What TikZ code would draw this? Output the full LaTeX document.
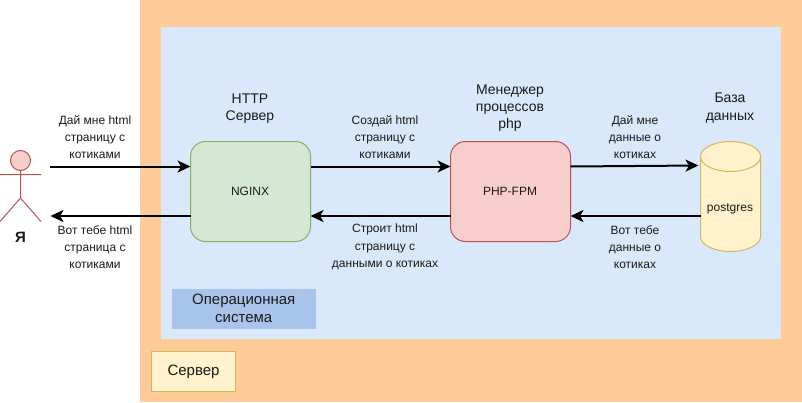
\documentclass[tikz,border=0pt]{standalone}
\usepackage{fontspec}
\setmainfont{Liberation Sans}
\usetikzlibrary{arrows.meta,shapes.geometric,calc}
\definecolor{srvfill}{HTML}{FFCC99}
\definecolor{osfill}{HTML}{DAE8FC}
\definecolor{oslabel}{HTML}{A9C4EB}
\definecolor{greenfill}{HTML}{D5E8D4}
\definecolor{greenline}{HTML}{82B366}
\definecolor{redfill}{HTML}{F8CECC}
\definecolor{redline}{HTML}{B85450}
\definecolor{yelfill}{HTML}{FFF2CC}
\definecolor{yelline}{HTML}{D6B656}
\definecolor{txt}{HTML}{1A1A1A}
\tikzset{
  plainbox/.style={anchor=north west,inner sep=0pt,outer sep=0pt,align=center},
  proc/.style={plainbox,rounded corners=15pt,line width=1pt,minimum width=120pt,minimum height=100pt,font=\fontsize{12}{15}\selectfont,text=txt},
  flow/.style={line width=2pt,black,-{Stealth[length=13pt,width=12pt,inset=3.5pt]},shorten >=0pt},
  small/.style={align=center,inner sep=0pt,font=\fontsize{12}{17.2}\selectfont,text=txt},
  title/.style={align=center,inner sep=0pt,font=\fontsize{14}{17.2}\selectfont,text=txt},
  person/.style={draw=redline,line width=1pt},
}
\begin{document}
\begin{tikzpicture}[x=1pt,y=-1pt]
\useasboundingbox (0,0) rectangle (802,402);
\node[plainbox,fill=srvfill,minimum width=662pt,minimum height=402pt] (server) at (140,0) {};
\node[plainbox,fill=osfill,minimum width=620pt,minimum height=312pt] (os) at (161,27) {};
\node[plainbox,fill=oslabel,minimum width=144pt,minimum height=40pt,font=\fontsize{15}{18}\selectfont,text=txt] (oslab) at (171.7,288.5) {Операционная\\система};
\node[plainbox,fill=yelfill,draw=yelline,line width=1pt,minimum width=84pt,minimum height=40pt,font=\fontsize{15}{18}\selectfont,text=txt] (srvlab) at (151.5,351.5) {\raisebox{-1.5pt}{Сервер}};
\node[proc,fill=greenfill,draw=greenline] (nginx) at (190.5,141.5) {\hspace*{-1pt}NGINX};
\node[proc,fill=redfill,draw=redline] (php) at (450.5,141.5) {\hspace*{-1pt}PHP-FPM};
% database cylinder
\fill[yelfill] (700.5,156.5) arc[x radius=30,y radius=15,start angle=180,end angle=360] -- (760.5,236.5) arc[x radius=30,y radius=15,start angle=0,end angle=180] -- cycle;
\draw[yelline,line width=1pt] (700.5,156.5) arc[x radius=30,y radius=15,start angle=180,end angle=540]
  (700.5,156.5) -- (700.5,236.5) arc[x radius=30,y radius=15,start angle=180,end angle=0] -- (760.5,156.5);
\node[inner sep=0pt,font=\fontsize{12}{15}\selectfont,text=txt] (db) at (730,209) {postgres};
\coordinate (dbin) at (698.5,165.5);
\coordinate (dbout) at (700.5,216);
% person
\node[circle,draw=redline,fill=redfill,line width=1pt,minimum size=20pt,inner sep=0pt] (head) at (20.5,160.5) {};
\coordinate (hip) at (20.5,198);
\coordinate (armL) at (0,174.7);
\coordinate (armR) at (41,174.7);
\coordinate (legL) at (0,221.5);
\coordinate (legR) at (41,221.5);
\draw[person] (head.south) -- (hip) (armL) -- (armR) (legL) -- (hip) -- (legR);
\node[inner sep=0pt,font=\bfseries\fontsize{15}{18}\selectfont,text=txt] (me) at (20.5,237) {Я};
\coordinate (ua) at (50,166.5);
\coordinate (ub) at (50.5,216);
% arrows
\draw[flow] (ua) -- (nginx.west |- ua);
\draw[flow] (nginx.west |- ub) -- (ub);
\draw[flow] (nginx.east |- ua) -- (php.west |- ua);
\draw[flow] (php.west |- ub) -- (nginx.east |- ub);
\draw[flow] (php.east |- ua) -- (dbin);
\draw[flow] (dbout) -- (php.east |- dbout);
% labels
\node[small] (l1) at (95,137) {Дай мне html\\страницу с\\котиками};
\node[small] (l2) at (95,247) {Вот тебе html\\страница с\\котиками};
\node[small] (l3) at (385,137) {Создай html\\страницу с\\котиками};
\node[small] (l4) at (385,247) {Строит html\\страницу с\\данными о котиках};
\node[small] (l5) at (635,137) {Дай мне\\данные о\\котиках};
\node[small] (l6) at (635,247) {Вот тебе\\данные о\\котиках};
\node[title] (t1) at (250,108.5) {HTTP\\Сервер};
\node[title] (t2) at (510,108) {Менеджер\\процессов\\php};
\node[title] (t3) at (730,108) {База\\данных};
\end{tikzpicture}
\end{document}
